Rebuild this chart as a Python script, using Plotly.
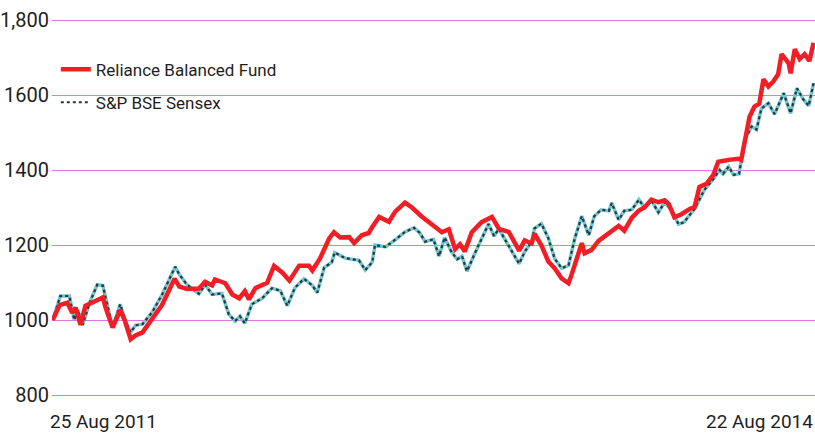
import plotly.graph_objects as go

# ---- data ----
fund_dates = ["2011-08-25","2011-09-04","2011-09-15","2011-09-22","2011-09-27","2011-10-04","2011-10-11","2011-10-28","2011-11-05","2011-11-09","2011-11-19","2011-11-30","2011-12-06","2011-12-15","2011-12-22","2012-01-01","2012-01-15","2012-01-29","2012-02-16","2012-02-23","2012-03-05","2012-03-22","2012-03-31","2012-04-10","2012-04-14","2012-04-29","2012-05-09","2012-05-19","2012-05-27","2012-06-02","2012-06-11","2012-06-28","2012-07-08","2012-07-20","2012-07-30","2012-08-13","2012-08-27","2012-09-01","2012-09-12","2012-09-25","2012-10-02","2012-10-11","2012-10-24","2012-10-31","2012-11-11","2012-11-21","2012-11-26","2012-12-06","2012-12-20","2012-12-29","2013-01-12","2013-01-22","2013-02-05","2013-02-20","2013-03-06","2013-03-16","2013-03-25","2013-04-01","2013-04-08","2013-04-18","2013-05-02","2013-05-17","2013-05-27","2013-06-10","2013-06-19","2013-06-25","2013-07-03","2013-07-13","2013-07-17","2013-07-27","2013-08-06","2013-08-15","2013-08-25","2013-09-04","2013-09-08","2013-09-16","2013-09-23","2013-09-27","2013-10-07","2013-10-17","2013-10-26","2013-11-05","2013-11-15","2013-11-23","2013-12-04","2013-12-14","2013-12-22","2014-01-01","2014-01-11","2014-01-20","2014-01-26","2014-02-03","2014-02-13","2014-02-25","2014-03-04","2014-03-11","2014-03-21","2014-03-31","2014-04-07","2014-04-22","2014-05-06","2014-05-10","2014-05-15","2014-05-22","2014-05-29","2014-06-05","2014-06-11","2014-06-18","2014-06-25","2014-07-02","2014-07-07","2014-07-17","2014-07-20","2014-07-26","2014-08-02","2014-08-09","2014-08-16","2014-08-22"]
fund_values = [1000,1040,1046,1019,1033,987,1038,1052,1060,1033,980,1026,1002,949,959,967,1002,1040,1110,1089,1083,1084,1102,1092,1108,1098,1068,1058,1077,1055,1085,1099,1144,1126,1105,1145,1145,1132,1164,1217,1234,1220,1221,1205,1226,1232,1248,1275,1262,1289,1313,1300,1276,1255,1234,1242,1189,1202,1183,1234,1261,1275,1243,1235,1203,1185,1212,1204,1230,1199,1156,1138,1111,1098,1119,1170,1205,1178,1187,1211,1224,1240,1251,1238,1273,1292,1300,1321,1314,1319,1309,1274,1282,1296,1301,1355,1363,1387,1422,1427,1430,1427,1481,1542,1569,1577,1642,1623,1636,1655,1709,1685,1658,1722,1696,1709,1691,1739]

sensex_dates = ["2011-08-25","2011-09-05","2011-09-18","2011-09-25","2011-09-30","2011-10-07","2011-10-17","2011-10-28","2011-11-05","2011-11-19","2011-11-30","2011-12-07","2011-12-15","2011-12-22","2012-01-01","2012-01-15","2012-01-29","2012-02-17","2012-02-23","2012-03-05","2012-03-22","2012-03-31","2012-04-10","2012-04-24","2012-05-04","2012-05-13","2012-05-20","2012-05-27","2012-06-06","2012-06-21","2012-07-05","2012-07-17","2012-07-27","2012-08-07","2012-08-20","2012-09-01","2012-09-08","2012-09-18","2012-09-29","2012-10-03","2012-10-18","2012-11-07","2012-11-16","2012-11-26","2012-11-30","2012-12-15","2012-12-29","2013-01-12","2013-01-25","2013-02-02","2013-02-10","2013-02-22","2013-03-02","2013-03-10","2013-03-20","2013-03-28","2013-04-04","2013-04-11","2013-04-22","2013-05-02","2013-05-12","2013-05-20","2013-05-27","2013-06-04","2013-06-14","2013-06-25","2013-07-03","2013-07-13","2013-07-17","2013-07-27","2013-08-06","2013-08-15","2013-08-25","2013-09-04","2013-09-13","2013-09-23","2013-10-03","2013-10-11","2013-10-21","2013-11-01","2013-11-05","2013-11-15","2013-11-23","2013-12-04","2013-12-14","2013-12-22","2014-01-01","2014-01-11","2014-01-20","2014-01-30","2014-02-09","2014-02-17","2014-02-25","2014-03-04","2014-03-18","2014-03-31","2014-04-09","2014-04-14","2014-04-22","2014-04-29","2014-05-07","2014-05-15","2014-05-25","2014-06-01","2014-06-08","2014-06-18","2014-06-27","2014-07-10","2014-07-20","2014-07-29","2014-08-07","2014-08-15","2014-08-22"]
sensex_values = [1000,1064,1064,1000,1027,987,1046,1094,1092,980,1042,999,967,986,989,1021,1067,1142,1121,1094,1070,1094,1068,1071,1015,997,1010,991,1042,1058,1085,1078,1038,1086,1110,1092,1073,1140,1154,1180,1165,1159,1133,1154,1200,1195,1214,1235,1246,1233,1209,1215,1170,1220,1181,1162,1170,1130,1176,1216,1256,1224,1243,1217,1185,1150,1182,1209,1244,1257,1218,1164,1138,1146,1218,1277,1226,1277,1294,1291,1312,1267,1291,1294,1321,1300,1319,1287,1314,1293,1255,1261,1280,1296,1347,1376,1400,1390,1409,1387,1390,1481,1516,1508,1564,1578,1549,1605,1551,1618,1589,1571,1632]

series_names = ["Reliance Balanced Fund", "S&P BSE Sensex"]
y_tick_values = [800, 1000, 1200, 1400, 1600, 1800]
y_tick_labels = ["800", "1000", "1200", "1400", "1600", "1,800"]
x_end_labels = ["25 Aug 2011", "22 Aug 2014"]
x_end_dates = ["2011-08-25", "2014-08-22"]

FONT = "Roboto, Liberation Sans, sans-serif"

fig = go.Figure()

# Sensex: cyan base with dark dotted texture on top
fig.add_trace(go.Scatter(
    x=sensex_dates, y=sensex_values, mode="lines",
    line=dict(color="#74c6c9", width=3.5),
    legendgroup="sensex", showlegend=False, hoverinfo="skip"))
fig.add_trace(go.Scatter(
    x=sensex_dates, y=sensex_values, mode="lines", name=series_names[1],
    line=dict(color="#23364d", width=2.2, dash="dot"),
    legendgroup="sensex", legendrank=2))

# Fund: red thick line
fig.add_trace(go.Scatter(
    x=fund_dates, y=fund_values, mode="lines", name=series_names[0],
    line=dict(color="#f31d25", width=4.5),
    legendgroup="fund", legendrank=1))

for txt, d, anchor, xs in zip(x_end_labels, x_end_dates, ["left", "right"], [-4, 0]):
    fig.add_annotation(x=d, y=0, xref="x", yref="paper", yanchor="top",
                       xanchor=anchor, text=txt, showarrow=False, yshift=1,
                       xshift=xs, borderpad=0,
                       font=dict(family=FONT, size=19, color="#1e1e1e"))

fig.update_layout(
    width=815, height=435,
    margin=dict(l=50, r=0, t=5, b=25),
    paper_bgcolor="white", plot_bgcolor="white",
    showlegend=True,
    legend=dict(x=0.005, y=0.885, xanchor="left", yanchor="top",
                bgcolor="rgba(0,0,0,0)", itemwidth=30, tracegroupgap=8,
                traceorder="grouped",
                font=dict(family=FONT, size=17, color="#1e1e1e")),
    xaxis=dict(type="date", range=["2011-08-24", "2014-08-24"],
               showgrid=False, showticklabels=False, zeroline=False,
               showline=False, ticks=""),
    yaxis=dict(range=[760, 1840], tickvals=y_tick_values, ticktext=y_tick_labels,
               showgrid=True, gridcolor="#dd78dd", gridwidth=1.2,
               zeroline=False, showline=False, ticks="", ticklabelstandoff=2,
               tickfont=dict(family=FONT, size=20, color="#1e1e1e")),
)

fig.write_html("out.html")
